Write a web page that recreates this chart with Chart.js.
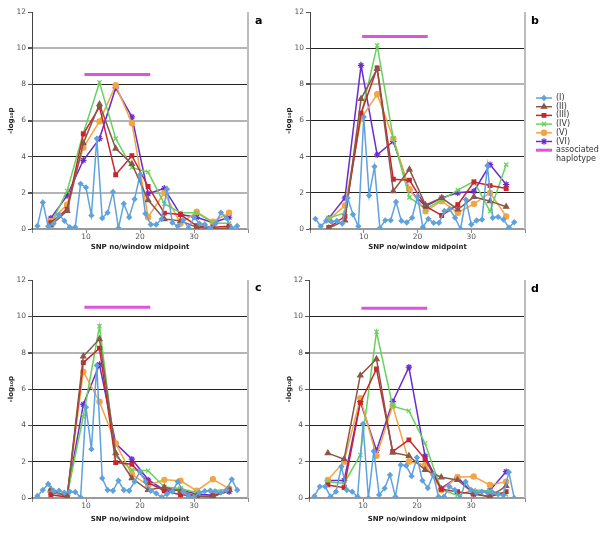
<!DOCTYPE html>
<html>
<head>
<meta charset="utf-8">
<script src="https://cdn.jsdelivr.net/npm/chart.js@4.4.1/dist/chart.umd.min.js"></script>
<style>
body { margin: 0; background: #fff; }
#wrap { position: relative; width: 600px; height: 540px; }
canvas { position: absolute; }
</style>
</head>
<body>
<div id="wrap">
  <canvas id="pa" width="280" height="258" style="left:0;top:0"></canvas>
  <canvas id="pb" width="320" height="258" style="left:280px;top:0"></canvas>
  <canvas id="pc" width="280" height="262" style="left:0;top:268px"></canvas>
  <canvas id="pd" width="320" height="262" style="left:280px;top:268px"></canvas>
</div>
<script>
// x positions: single SNPs and sliding window midpoints
var snpNo = [1,2,3,4,5,6,7,8,9,10,11,12,13,14,15,16,17,18,19,20,21,22,23,24,25,26,27,28,29,30,31,32,33,34,35,36,37,38];
var windowMid = [3.5,6.5,9.5,12.5,15.5,18.5,21.5,24.5,27.5,30.5,33.5,36.5];
var seriesNames = ['(I)','(II)','(III)','(IV)','(V)','(VI)'];
var hapName = ['associated', 'haplotype'];
var xTicks = [10, 20, 30];

// panel a
var aI   = [0.17,1.47,0.15,0.3,0.8,0.45,0.1,0.1,2.5,2.3,0.75,5.0,0.6,0.9,2.05,0.05,1.4,0.65,1.65,3.0,0.85,0.25,0.25,0.55,2.2,0.35,0.15,0.5,0.05,0.65,0.3,0.25,0.02,0.3,0.9,0.6,0.05,0.17];
var aII  = [0.2,1.0,4.75,6.9,4.45,3.6,1.6,0.55,0.45,0.1,0.02,0.05];
var aIII = [0.35,1.1,5.25,6.75,3.0,4.05,2.35,0.88,0.8,0.18,0.1,0.15];
var aIV  = [0.3,2.1,5.3,8.1,5.0,3.4,3.15,1.4,0.9,0.9,0.35,0.3];
var aV   = [0.45,1.35,4.5,5.95,7.95,5.85,0.65,2.0,0.3,0.95,0.4,0.9];
var aVI  = [0.6,1.85,3.8,5.0,7.8,6.2,1.95,2.25,0.8,0.65,0.35,0.65];

// panel b
var bI   = [0.56,0.15,0.45,0.4,0.45,0.3,1.72,0.8,0.15,6.2,1.85,3.45,0.05,0.48,0.48,1.5,0.45,0.36,0.62,1.8,0.1,0.56,0.34,0.34,1.0,1.1,0.62,0.0,1.63,0.25,0.47,0.52,3.5,0.62,0.67,0.52,0.07,0.38];
var bII  = [0.05,0.47,7.2,8.85,2.1,3.3,1.33,1.72,1.08,1.78,1.54,1.23];
var bIII = [0.08,0.7,6.4,8.9,2.75,2.7,1.26,0.75,1.35,2.6,2.4,2.24];
var bIV  = [0.6,0.9,6.3,10.15,5.0,1.75,1.1,1.63,2.15,2.64,0.98,3.56];
var bV   = [0.52,1.3,6.1,7.45,5.0,2.2,0.98,1.54,0.9,1.39,2.0,0.7];
var bVI  = [0.6,1.72,9.05,4.1,4.85,2.15,1.26,1.72,2.0,2.09,3.56,2.46];

// panel c
var cI   = [0.11,0.44,0.77,0.4,0.4,0.29,0.35,0.33,0.04,5.0,2.69,7.3,1.09,0.44,0.4,0.96,0.44,0.4,0.9,1.45,0.9,0.4,0.26,0.04,0.22,0.35,0.9,0.35,0.1,0.04,0.3,0.38,0.4,0.35,0.3,0.44,1.03,0.44];
var cII  = [0.48,0.05,7.8,8.75,2.47,1.09,0.44,0.6,0.35,0.11,0.05,0.44];
var cIII = [0.18,0.05,7.45,8.25,1.95,1.86,0.85,0.4,0.18,0.11,0.1,0.45];
var cIV  = [0.35,0.15,4.5,9.45,2.3,1.55,1.5,0.6,0.52,0.3,0.4,0.48];
var cV   = [0.4,0.08,6.95,5.3,3.0,1.3,0.7,1.0,0.95,0.4,1.03,0.52];
var cVI  = [0.3,0.15,5.15,7.35,3.0,2.14,1.0,0.44,0.44,0.22,0.15,0.35];

// panel d
var dI   = [0.1,0.63,0.63,0.07,0.35,1.73,0.44,0.35,0.07,4.08,0.0,2.58,0.17,0.53,1.27,0.07,1.82,1.78,1.2,2.23,0.96,0.55,1.27,0.07,0.07,0.63,0.44,0.0,0.9,0.44,0.3,0.35,0.3,0.3,0.2,0.15,1.42,0.0];
var dII  = [2.47,2.14,6.75,7.65,2.5,2.32,1.55,1.14,0.99,0.25,0.07,0.66];
var dIII = [0.72,0.57,5.25,7.1,2.56,3.2,2.14,0.48,0.35,0.22,0.07,0.35];
var dIV  = [0.9,0.8,2.37,9.15,5.05,4.8,3.0,0.45,0.15,0.44,0.4,0.2];
var dV   = [1.0,2.0,5.5,2.32,5.08,2.0,1.82,0.44,1.14,1.18,0.72,0.9];
var dVI  = [0.96,0.96,5.3,2.61,5.3,7.2,2.3,0.53,1.14,0.22,0.42,1.45];

// associated haplotype bar (start, end, height per panel)
var hapX = [9.7, 21.9];
var hapY = [8.55, 10.65, 10.5, 10.45];

var FONT = '"DejaVu Sans", Verdana, sans-serif';
var styles = [
  { color: '#5fa2dd', point: 'rectRot',  r: 2.3 },
  { color: '#8a5749', point: 'triangle', r: 3.0 },
  { color: '#c8262c', point: 'rect',     r: 2.6 },
  { color: '#66d25a', point: 'crossRot', r: 3.0 },
  { color: '#f3a544', point: 'circle',   r: 2.6 },
  { color: '#6a2bd0', point: 'star',     r: 3.2 }
];
var hapColor = '#dd55dd';

function pairs(xs, ys) {
  return ys.map(function (y, i) { return { x: xs[i], y: y }; });
}

/* right frame edge, panel letter and (panel b only) the legend */
var decor = {
  id: 'decor',
  afterDraw: function (chart, args, o) {
    var ctx = chart.ctx, ca = chart.chartArea;
    ctx.save();
    ctx.strokeStyle = '#bdbdbd';
    ctx.lineWidth = 2;
    ctx.beginPath();
    ctx.moveTo(ca.right, ca.top);
    ctx.lineTo(ca.right, ca.bottom);
    ctx.stroke();

    ctx.fillStyle = '#000';
    ctx.font = 'bold 11px ' + FONT;
    ctx.textBaseline = 'middle';
    ctx.textAlign = 'left';
    ctx.fillText(o.letter, o.lx, o.ly);

    if (o.legend) {
      var x0 = o.legend.x, y0 = o.legend.y, step = 8.7;
      ctx.font = '8px ' + FONT;
      chart.data.datasets.forEach(function (ds, i) {
        var y = y0 + i * step;
        ctx.strokeStyle = ds.borderColor;
        ctx.lineWidth = ds.borderWidth;
        ctx.beginPath();
        ctx.moveTo(x0, y);
        ctx.lineTo(x0 + 16, y);
        ctx.stroke();
        if (ds.pointStyle && Chart.helpers && Chart.helpers.drawPoint) {
          ctx.fillStyle = ds.backgroundColor;
          ctx.lineWidth = 1.2;
          Chart.helpers.drawPoint(ctx, { pointStyle: ds.pointStyle, radius: ds.pointRadius, rotation: 0, borderWidth: 1.2 }, x0 + 8, y);
        }
        ctx.fillStyle = '#333';
        var lines = ds.label.split('\n');
        lines.forEach(function (t, k) { ctx.fillText(t, x0 + 20, y + k * step); });
      });
    }
    ctx.restore();
  }
};

function makePanel(id, series, hy, cfg) {
  var datasets = series.map(function (vals, i) {
    var s = styles[i];
    return {
      label: seriesNames[i],
      data: i === 0 ? pairs(snpNo, vals) : pairs(windowMid, vals),
      borderColor: s.color,
      backgroundColor: s.color,
      pointBackgroundColor: s.color,
      pointBorderColor: s.color,
      pointStyle: s.point,
      pointRadius: s.r,
      pointBorderWidth: 1.2,
      borderWidth: 1.5,
      tension: 0,
      spanGaps: true
    };
  });
  datasets.push({
    label: hapName.join('\n'),
    data: [{ x: hapX[0], y: hy }, { x: hapX[1], y: hy }],
    borderColor: hapColor,
    backgroundColor: hapColor,
    borderWidth: 3,
    pointRadius: 0,
    pointStyle: false
  });

  var light = cfg.light;
  return new Chart(document.getElementById(id), {
    type: 'line',
    data: { datasets: datasets },
    plugins: [decor],
    options: {
      responsive: false,
      animation: false,
      layout: { padding: { top: 12, right: cfg.padRight, left: 0, bottom: 0 } },
      plugins: {
        legend: { display: false },
        tooltip: { enabled: false },
        decor: { letter: cfg.letter, lx: cfg.lx, ly: cfg.ly, legend: cfg.legend }
      },
      scales: {
        x: {
          type: 'linear',
          min: 0, max: 40,
          afterFit: function (s) { s.height = cfg.xh; },
          afterBuildTicks: function (s) {
            s.ticks = [0].concat(xTicks, [40]).map(function (v) { return { value: v }; });
          },
          ticks: {
            font: { family: FONT, size: 7.5 }, color: '#555', padding: 0, maxRotation: 0,
            callback: function (v) { return xTicks.indexOf(v) >= 0 ? String(v) : ''; }
          },
          grid: { drawOnChartArea: false, drawTicks: true, tickLength: 4, color: '#888' },
          border: { color: '#9a9a9a', width: 2 },
          title: {
            display: true, text: 'SNP no/window midpoint',
            font: { family: FONT, size: 7, weight: 'bold' }, color: '#222',
            padding: { top: 0, bottom: 7 }
          }
        },
        y: {
          min: 0, max: 12,
          afterFit: function (s) { s.width = cfg.yw; },
          ticks: { stepSize: 2, font: { family: FONT, size: 7.5 }, color: '#555', padding: 2 },
          grid: {
            tickLength: 4,
            color: function (c) {
              var v = c.tick.value;
              if (v === 12 || v === 0) return 'rgba(0,0,0,0)';
              return light.indexOf(v) >= 0 ? '#b4b4b4' : '#222';
            },
            lineWidth: function (c) { return light.indexOf(c.tick.value) >= 0 ? 2 : 1; },
            tickColor: '#555'
          },
          border: { color: '#444', width: 1 },
          title: {
            display: true, text: '-log\u2081\u2080p',
            font: { family: FONT, size: 7, weight: 'bold' }, color: '#222',
            padding: { top: cfg.ytp, bottom: 0 }
          }
        }
      }
    }
  });
}

makePanel('pa', [aI, aII, aIII, aIV, aV, aVI], hapY[0],
  { letter: 'a', lx: 255, ly: 21, padRight: 32, yw: 32, xh: 29, ytp: 7, light: [2, 6, 10], legend: null });
makePanel('pb', [bI, bII, bIII, bIV, bV, bVI], hapY[1],
  { letter: 'b', lx: 251, ly: 21, padRight: 75, yw: 30, xh: 29, ytp: 5, light: [8], legend: { x: 256, y: 98 } });
makePanel('pc', [cI, cII, cIII, cIV, cV, cVI], hapY[2],
  { letter: 'c', lx: 255, ly: 20, padRight: 32, yw: 32, xh: 32, ytp: 7, light: [8], legend: null });
makePanel('pd', [dI, dII, dIII, dIV, dV, dVI], hapY[3],
  { letter: 'd', lx: 251, ly: 21, padRight: 75, yw: 29, xh: 32, ytp: 5, light: [8], legend: null });
</script>
</body>
</html>
